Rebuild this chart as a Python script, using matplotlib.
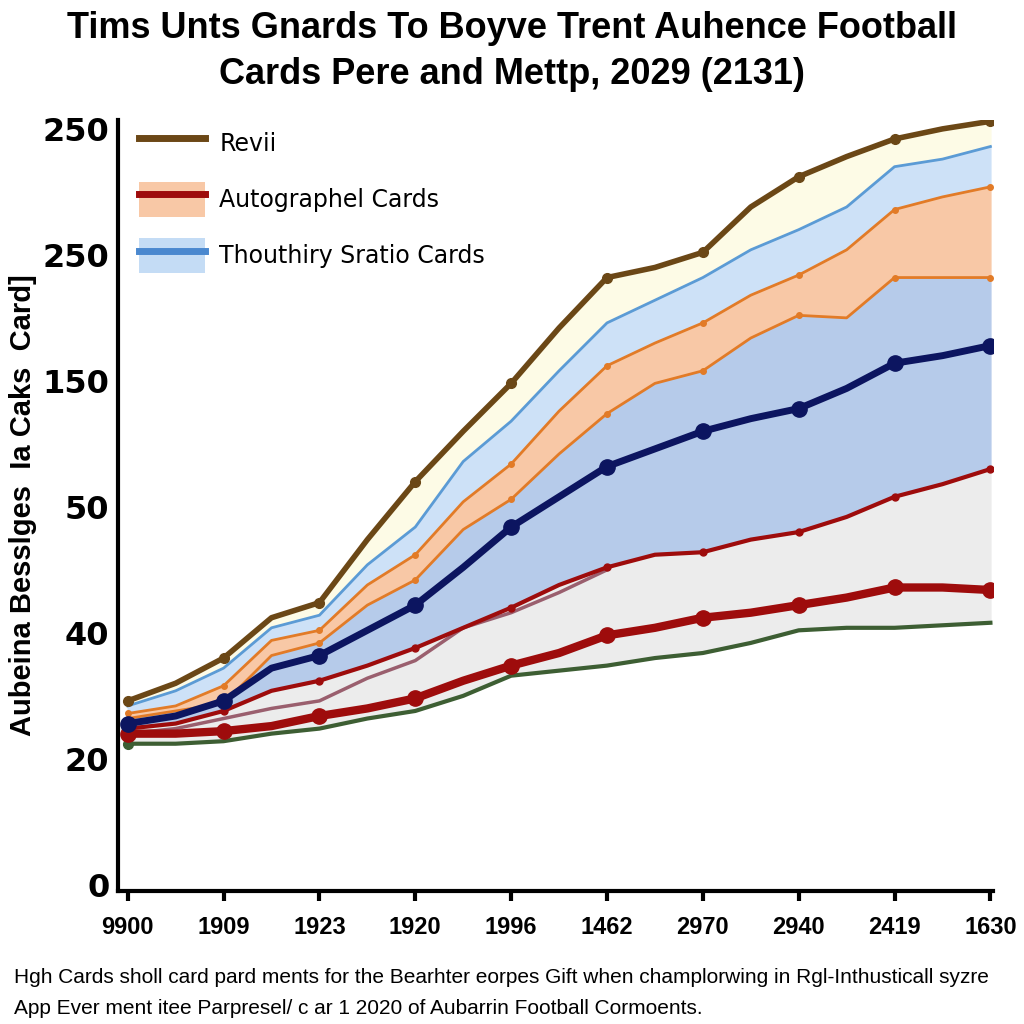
import numpy as np
import matplotlib
matplotlib.use("Agg")
import matplotlib.pyplot as plt
from matplotlib.lines import Line2D
from matplotlib.patches import Patch

# x positions (tick every 2nd point) and labels
x = np.arange(19) / 2.0
tick_labels = ["9900", "1909", "1923", "1920", "1996", "1462", "2970", "2940", "2419", "1630"]
ytick_labels = ["0", "20", "40", "50", "150", "250", "250"]

# series
revii = [73, 80, 90, 106, 112, 137, 160, 180, 199, 221, 241, 245, 251, 269, 281, 289, 296, 300, 303]
thou_top = [71, 77, 86, 102, 107, 127, 142, 168, 184, 204, 223, 232, 241, 252, 260, 269, 285, 288, 293]
auto_top = [68, 71, 79, 97, 101, 119, 131, 152, 167, 188, 206, 215, 223, 234, 242, 252, 268, 273, 277]
auto_low = [66, 69, 72, 91, 96, 111, 121, 141, 153, 171, 187, 199, 204, 217, 226, 225, 241, 241, 241]
navy = [64, 67, 73, 86, 91, 101, 111, 126, 142, 154, 166, 173, 180, 185, 189, 197, 207, 210, 214]
red_mid = [62, 64, 69, 77, 81, 87, 94, 102, 110, 119, 126, 131, 132, 137, 140, 146, 154, 159, 165]
mauve = [60, 62, 66, 70, 73, 82, 89, 102, 108, 116, 125] + [np.nan] * 8
red_low = [60, 60, 61, 63, 67, 70, 74, 81, 87, 92, 99, 102, 106, 108, 111, 114, 118, 118, 117]
green = [56, 56, 57, 60, 62, 66, 69, 75, 83, 85, 87, 90, 92, 96, 101, 102, 102, 103, 104]

brown_c = "#6b4716"
lblue_c = "#5b9bd5"
orange_c = "#e27b27"
navy_c = "#0c1560"
red_c = "#9e0c0c"
mauve_c = "#9a5f6e"
green_c = "#3d5e33"
narrow = "Liberation Sans"

fig = plt.figure(figsize=(10.24, 10.24), dpi=100)
ax = fig.add_axes([0.115, 0.130, 0.855, 0.753])

# filled bands
ax.fill_between(x, thou_top, revii, color="#fdfbe6", zorder=1)
ax.fill_between(x, auto_top, thou_top, color="#cde1f7", zorder=1)
ax.fill_between(x, auto_low, auto_top, color="#f8c8a6", zorder=1)
ax.fill_between(x, red_mid, auto_low, color="#b6cbea", zorder=1)
ax.fill_between(x, green, red_mid, color="#ececec", zorder=1)

mk = slice(0, None, 2)
ax.plot(x, green, color=green_c, lw=3, zorder=3)
ax.plot(x[:1], green[:1], "o", color=green_c, ms=7, zorder=3)
ax.plot(x, red_low, color=red_c, lw=6, zorder=4)
ax.plot(x[mk], np.array(red_low)[mk], "o", color=red_c, ms=11, zorder=4)
ax.plot(x, mauve, color=mauve_c, lw=2.5, zorder=3)
ax.plot(x, red_mid, color=red_c, lw=3, marker="o", ms=5, markevery=2, zorder=4)
ax.plot(x, navy, color=navy_c, lw=5, zorder=5)
ax.plot(x[mk], np.array(navy)[mk], "o", color=navy_c, ms=11, zorder=5)
ax.plot(x, auto_low, color=orange_c, lw=2, marker="o", ms=4, markevery=2, zorder=4)
ax.plot(x, auto_top, color=orange_c, lw=2, marker="o", ms=4, markevery=2, zorder=4)
ax.plot(x, thou_top, color=lblue_c, lw=2, zorder=4)
ax.plot(x, revii, color=brown_c, lw=4, marker="o", ms=7, markevery=2, zorder=6)

ax.set_xlim(-0.104, 9.03)
ax.set_ylim(-2.4, 303.6)
ax.set_xticks(np.arange(10))
ax.set_xticklabels(tick_labels, fontsize=17, fontweight="bold", family=narrow)
ax.set_yticks(np.arange(0, 301, 50))
ax.set_yticklabels(ytick_labels, fontsize=23, fontweight="bold")
ax.set_yticks([100], minor=True)
ax.tick_params(axis="y", which="major", length=0, pad=6)
ax.tick_params(axis="y", which="minor", length=9, width=3, direction="out")
ax.tick_params(axis="x", length=7, width=3, direction="out", pad=11)

for s in ["top", "right"]:
    ax.spines[s].set_visible(False)
for s in ["left", "bottom"]:
    ax.spines[s].set_linewidth(3)

ax.set_ylabel("Aubeina Besslges  Ia Caks  Card]", fontsize=21, fontweight="bold",
              family=narrow, labelpad=4)

handles = [
    Line2D([], [], color=brown_c, lw=5),
    (Patch(facecolor="#f8c8a6"), Line2D([], [], color=red_c, lw=5)),
    (Patch(facecolor="#c4dcf5"), Line2D([], [], color="#4a88cf", lw=5)),
]
labels = ["Revii", "Autographel Cards", "Thouthiry Sratio Cards"]
ax.legend(handles, labels, loc="upper left", bbox_to_anchor=(0.0, 1.02), frameon=False,
          handlelength=2.8, handleheight=1.9, handletextpad=0.6, labelspacing=0.9,
          prop={"size": 17, "weight": "medium"})

fig.text(0.5, 0.972, "Tims Unts Gnards To Boyve Trent Auhence Football",
         ha="center", va="center", fontsize=26, fontweight="bold", family=narrow)
fig.text(0.5, 0.927, "Cards Pere and Mettp, 2029 (2131)",
         ha="center", va="center", fontsize=26, fontweight="bold", family=narrow)

fig.text(0.014, 0.045, "Hgh Cards sholl card pard ments for the Bearhter eorpes Gift when champlorwing in Rgl-Inthusticall syzre",
         ha="left", va="center", fontsize=15, family=narrow)
fig.text(0.014, 0.015, "App Ever ment itee Parpresel/ c ar 1 2020 of Aubarrin Football Cormoents.",
         ha="left", va="center", fontsize=15, family=narrow)

fig.savefig("out.png", dpi=100)
